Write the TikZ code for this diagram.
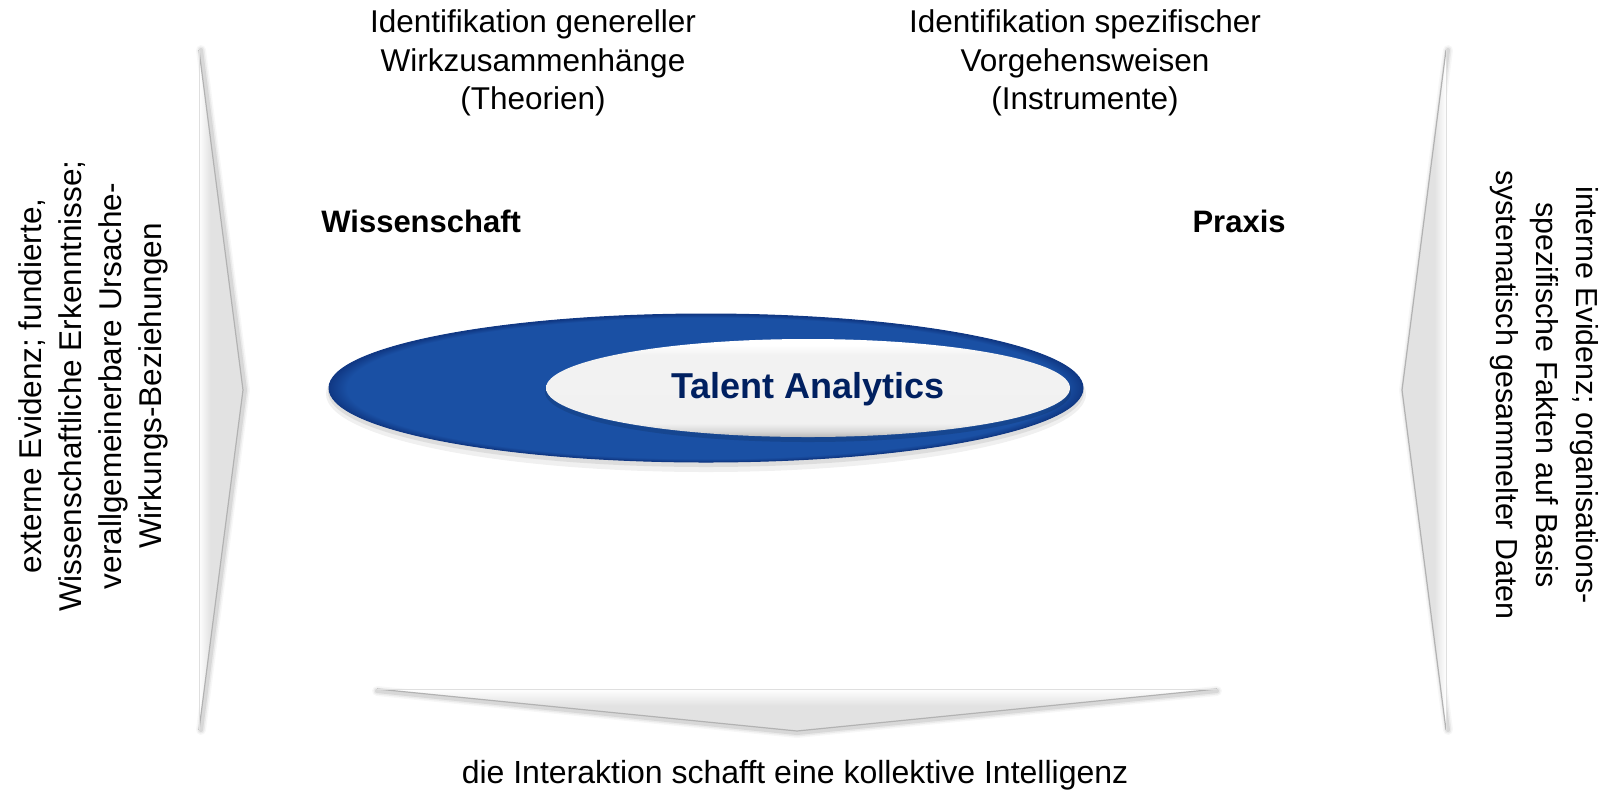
\documentclass[tikz,border=0pt]{standalone}
\usepackage{fontspec}
\setmainfont{Liberation Sans}
\usetikzlibrary{shapes.geometric}
\definecolor{tablue}{RGB}{26,80,164}
\definecolor{tadark}{RGB}{16,56,132}
\definecolor{tanavy}{RGB}{0,32,96}
\definecolor{chevgray}{RGB}{226,226,226}
\pgfdeclareradialshading{outerblue}{\pgfpoint{0bp}{0bp}}{color(0bp)=(tablue); color(23.8bp)=(tablue); color(25bp)=(tadark); color(50bp)=(tadark)}
\pgfdeclareverticalshading{bevel}{100bp}{color(0bp)=(gray!55); color(25bp)=(gray!55); color(28bp)=(gray!30); color(32bp)=(gray!11); color(67bp)=(gray!10); color(72bp)=(white); color(75bp)=(white); color(100bp)=(white)}
\pgfdeclarehorizontalshading{chevL}{100bp}{color(0bp)=(white); color(25bp)=(white); color(38bp)=(chevgray); color(100bp)=(chevgray)}
\pgfdeclarehorizontalshading{chevR}{100bp}{color(0bp)=(chevgray); color(62bp)=(chevgray); color(75bp)=(white); color(100bp)=(white)}
\pgfdeclareverticalshading{chevB}{100bp}{color(0bp)=(chevgray); color(55bp)=(chevgray); color(75bp)=(white); color(100bp)=(white)}
\tikzset{
  txt/.style={font=\fontsize{15.75}{19.25}\selectfont, align=center, inner sep=0pt},
  side/.style={font=\fontsize{15.75}{20}\selectfont, align=center, inner sep=0pt},
  lbl/.style={font=\fontsize{15.5}{18}\selectfont\bfseries, inner sep=0pt},
  softedge/.style={draw=black, line join=round, line cap=round},
  crispedge/.style={draw=gray!60, line width=0.6pt, line join=round},
  baseedge/.style={draw=gray!25, line width=0.5pt},
}
\begin{document}
\begin{tikzpicture}[x=0.5pt, y=-0.5pt]
\useasboundingbox (0,0) rectangle (1599,789);
% chevron corner points
\coordinate (L1) at (199,50);  \coordinate (L2) at (243,390);  \coordinate (L3) at (199,730);
\coordinate (R1) at (1446,50); \coordinate (R2) at (1402,390); \coordinate (R3) at (1446,730);
\coordinate (B1) at (377,689); \coordinate (B2) at (797,731);  \coordinate (B3) at (1217,689);
% soft shadows of chevron edges
\foreach \w/\o in {5/0.03,3.5/0.05,2/0.08}{
  \draw[softedge, line width=\w pt, opacity=\o] ([xshift=1pt]L1) -- ([xshift=1pt]L2) -- ([xshift=1pt]L3);
  \draw[softedge, line width=\w pt, opacity=\o] ([xshift=1pt]R1) -- ([xshift=1pt]R2) -- ([xshift=1pt]R3);
  \draw[softedge, line width=\w pt, opacity=\o] ([yshift=-1pt]B1) -- ([yshift=-1pt]B2) -- ([yshift=-1pt]B3);
}
% chevron bodies
\path[shading=chevL] (L1) -- (L2) -- (L3) -- cycle;
\path[shading=chevR] (R1) -- (R2) -- (R3) -- cycle;
\path[shading=chevB] (B1) -- (B2) -- (B3) -- cycle;
\draw[crispedge] (L1) -- (L2) -- (L3);
\draw[crispedge] (R1) -- (R2) -- (R3);
\draw[crispedge] (B1) -- (B2) -- (B3);
\draw[baseedge] (L1) -- (L3);
\draw[baseedge] (R1) -- (R3);
\draw[baseedge] (B1) -- (B3);
% outer blue ellipse with shadow
\fill[black, opacity=0.06] (706,394) ellipse [x radius=380, y radius=78];
\fill[black, opacity=0.08] (706,392) ellipse [x radius=378, y radius=75];
\path[shading=outerblue] (706,388) ellipse [x radius=377, y radius=74];
\draw[tadark, line width=0.5pt] (706,388) ellipse [x radius=377, y radius=74];
% inner ellipse with shadow
\fill[black, opacity=0.12] (808,392) ellipse [x radius=263, y radius=50];
\path[shading=bevel] (808,388) ellipse [x radius=262, y radius=49];
\node[font=\fontsize{18}{20}\selectfont\bfseries, text=tanavy, inner sep=0pt] (ta) at (808,389) {Talent Analytics};
% texts
\node[txt] (theo) at (533,63) {Identifikation genereller\\Wirkzusammenhänge\\(Theorien)};
\node[txt] (inst) at (1085,63) {Identifikation spezifischer\\Vorgehensweisen\\(Instrumente)};
\node[lbl, anchor=base west] (wiss) at (321,232) {Wissenschaft};
\node[lbl, anchor=base east] (prax) at (1286,232) {Praxis};
\node[side, rotate=90] (ext) at (93,386) {externe Evidenz; fundierte,\\Wissenschaftliche Erkenntnisse;\\verallgemeinerbare Ursache-\\Wirkungs-Beziehungen};
\node[side, font=\fontsize{15.2}{20}\selectfont, rotate=-90] (int) at (1544,395) {interne Evidenz; organisations-\\spezifische Fakten auf Basis\\systematisch gesammelter Daten};
\node[txt, font=\fontsize{16}{19.25}\selectfont, anchor=base] (inter) at (795,783) {die Interaktion schafft eine kollektive Intelligenz};
\end{tikzpicture}
\end{document}
